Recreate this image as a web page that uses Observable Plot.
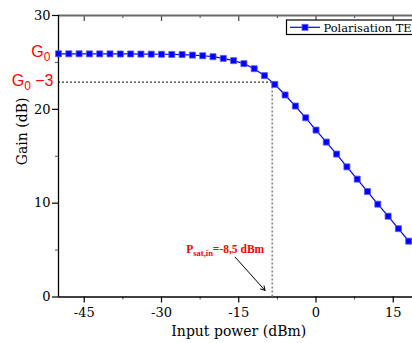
<!DOCTYPE html>
<html><head><meta charset="utf-8">
<script src="https://cdn.jsdelivr.net/npm/d3@7"></script>
<script src="https://cdn.jsdelivr.net/npm/@observablehq/plot@0.6"></script>
<style>
html,body{margin:0;padding:0;background:#fff;overflow:hidden;width:412px;height:343px;}
#chart{width:440px;}
</style></head><body><div id="chart"></div>
<script>
const inputPower = [-50,-48,-46,-44,-42,-40,-38,-36,-34,-32,-30,-28,-26,-24,-22,-20,-18,-16,-14,-12,-10,-8,-6,-4,-2,0,2,4,6,8,10,12,14,16,18];
const gainTE = [25.92,25.92,25.92,25.91,25.91,25.91,25.90,25.90,25.89,25.88,25.87,25.85,25.84,25.78,25.71,25.61,25.43,25.19,24.87,24.33,23.59,22.66,21.53,20.35,19.10,17.79,16.51,15.23,13.87,12.56,11.24,9.89,8.61,7.28,5.95];
const xTicksMajor = [-45,-30,-15,0,15];
const xTicksMinor = [-37.5,-22.5,-7.5,7.5];
const yTicksMajor = [0,10,20,30];
const yTicksMinor = [5,15,25];
const xDomain = [-50, 20];
const yDomain = [0, 30];
const G0 = 25.9;
const G0minus3 = 22.9;
const Psat = -8.5;
const psatLabel = {x: -25.2, y: 5.05};
const psatArrow = [{x1: -15.7, y1: 4.25, x2: -9.9, y2: 0.7}];
const seriesName = "Polarisation TE";
const xLabel = "Input power (dBm)";
const yLabel = "Gain (dB)";

const data = inputPower.map((x, i) => ({x, y: gainTE[i]}));
const blue = "#0000ff";
const frameH = 343 - 15 - 46.5;

const chart = Plot.plot({
  width: 440, height: 343,
  marginLeft: 58, marginRight: 21.5, marginTop: 15, marginBottom: 46.5,
  x: {domain: xDomain},
  y: {domain: yDomain},
  style: {fontFamily: "DejaVu Serif", fontSize: "13px", background: "white", color: "black", overflow: "visible"},
  marks: [
    Plot.tickX(xTicksMajor, {x: d => d, insetBottom: frameH - 6, stroke: "#444", strokeWidth: 1.2}),
    Plot.tickX(xTicksMinor, {x: d => d, insetBottom: frameH - 3, stroke: "#444", strokeWidth: 1}),
    Plot.ruleY([yDomain[1]], {stroke: "#6b6b6b", strokeWidth: 2}),
    Plot.axisX({anchor: "bottom", ticks: xTicksMajor, tickSize: 6, tickPadding: 5, tickFormat: d => String(d), label: null, strokeWidth: 1.2}),
    Plot.axisX({anchor: "bottom", ticks: xTicksMinor, tickSize: 3, tickFormat: () => "", label: null, stroke: "#555"}),
    Plot.axisY({anchor: "left", ticks: yTicksMajor, tickSize: 6, tickPadding: 2, tickFormat: d => String(d), label: null, strokeWidth: 1.2}),
    Plot.axisY({anchor: "left", ticks: yTicksMinor, tickSize: 3, tickFormat: () => "", label: null, stroke: "#555"}),
    Plot.ruleX([xDomain[0]], {stroke: "black", strokeWidth: 1.3}),
    Plot.ruleY([yDomain[0]], {stroke: "black", strokeWidth: 1.3}),
    Plot.ruleY([G0minus3], {x1: () => xDomain[0], x2: () => Psat, stroke: "black", strokeWidth: 1, strokeDasharray: "2,2"}),
    Plot.ruleX([Psat], {y1: () => yDomain[0], y2: () => G0minus3, stroke: "#888", strokeWidth: 1.6, strokeDasharray: "2,2"}),
    Plot.line(data, {x: "x", y: "y", stroke: blue, strokeWidth: 1.2}),
    Plot.dot(data, {x: "x", y: "y", symbol: "square", r: 3.4, fill: blue, stroke: "#5a5aff", strokeWidth: 0.8}),
    Plot.text([G0], {frameAnchor: "left", y: d => d, text: () => "G0", textAnchor: "end", dx: -8, dy: -2, fill: "red", fontFamily: "Liberation Sans", fontSize: 16}),
    Plot.text([G0minus3], {frameAnchor: "left", y: d => d, text: () => "G0-3", textAnchor: "end", dx: -5, dy: -1, fill: "red", fontFamily: "Liberation Sans", fontSize: 16}),
    Plot.text([psatLabel], {x: "x", y: "y", text: () => "PSAT", textAnchor: "start", fill: "red", fontFamily: "Liberation Serif", fontWeight: "bold", fontSize: 11.5}),
    Plot.arrow(psatArrow, {x1: "x1", y1: "y1", x2: "x2", y2: "y2", stroke: "black", strokeWidth: 1, headLength: 7}),
    Plot.text([xLabel], {frameAnchor: "bottom", text: d => d, dy: 39, fontSize: 14}),
    Plot.text([yLabel], {frameAnchor: "left", text: d => d, rotate: -90, dx: -36, dy: 9, fontSize: 14})
  ]
});

document.getElementById("chart").appendChild(chart);
const svg = d3.select(chart);

function rebuild(node, parts) {
  const t = d3.select(node);
  t.text(null);
  parts.forEach(p => {
    const s = t.append("tspan").text(p.t);
    if (p.dy) s.attr("dy", p.dy);
    if (p.fs) s.attr("font-size", p.fs);
  });
}
svg.selectAll("text").each(function() {
  const c = this.textContent;
  if (c === "G0") rebuild(this, [{t: "G"}, {t: "0", dy: 4, fs: 12}]);
  else if (c === "G0-3") rebuild(this, [{t: "G"}, {t: "0", dy: 4, fs: 12}, {t: " \u22123", dy: -4}]);
  else if (c === "PSAT") rebuild(this, [{t: "P"}, {t: "sat,in", dy: 3, fs: 8.5}, {t: "=-8,5 dBm", dy: -3}]);
});

// legend
const lg = svg.append("g");
lg.append("rect").attr("x", 286.5).attr("y", 20).attr("width", 160).attr("height", 14.5)
  .attr("fill", "white").attr("stroke", "black").attr("stroke-width", 1.2);
lg.append("line").attr("x1", 290).attr("x2", 320).attr("y1", 27.3).attr("y2", 27.3).attr("stroke", blue).attr("stroke-width", 1.2);
lg.append("rect").attr("x", 302).attr("y", 24.3).attr("width", 6).attr("height", 6).attr("fill", blue).attr("stroke", "#5a5aff").attr("stroke-width", 0.8);
lg.append("text").attr("x", 323.5).attr("y", 31.8).attr("text-anchor", "start").attr("font-size", 11.4).attr("font-family", "DejaVu Serif").text(seriesName);
</script></body></html>
